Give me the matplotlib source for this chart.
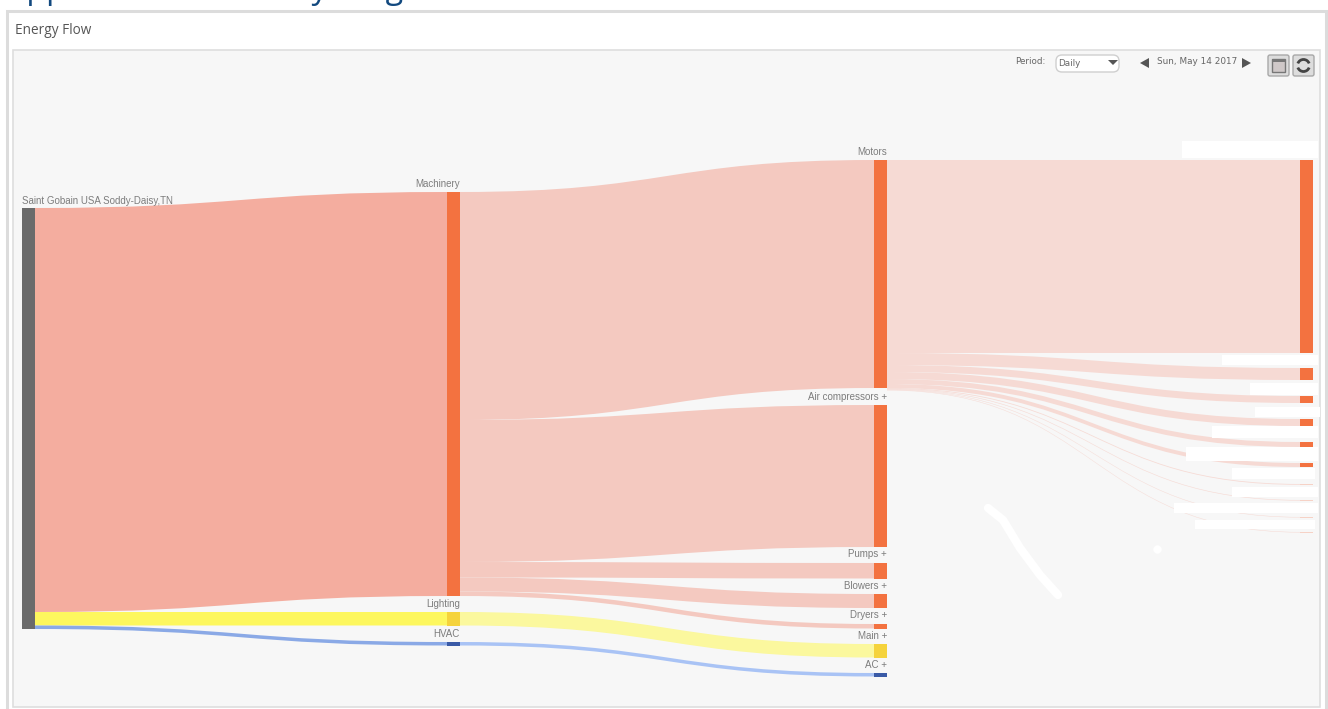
import matplotlib
matplotlib.use('Agg')
import matplotlib.pyplot as plt
from matplotlib.patches import PathPatch, Rectangle, FancyBboxPatch, Polygon, Arc
from matplotlib.path import Path

# Flow values, same unit as the screen height of a band
root_name = 'Saint Gobain USA Soddy-Daisy,TN'
level1_names = ['Machinery', 'Lighting', 'HVAC']
level1_values = [404, 13.5, 3.5]
machinery_names = ['Motors', 'Air compressors +', 'Pumps +', 'Blowers +', 'Dryers +']
machinery_values = [228, 142, 15.5, 14, 4.5]
lighting_name = 'Main +'
lighting_value = 13.5
hvac_name = 'AC +'
hvac_value = 3.5
motor_values = [193, 12, 7, 7, 5, 4, 0.8, 0.6, 0.5, 0.5]

# Layout: top of each node on screen
root_top = 208
level1_tops = [192, 612, 642]
level2_tops = [160, 405, 563, 594, 624, 644, 673]
level3_tops = [160, 368, 396, 419, 442, 463, 484, 500, 517, 532]
label_y_level1 = [184, 604, 634]
label_y_level2 = [152, 397, 554, 586, 615, 636, 665]

X0, X1, X2, X3 = 22, 447, 874, 1300
NODE_W = 13

ORANGE = '#f37240'
YELLOW = '#f5d33c'
BLUE = '#3a5aa6'
GRAY = '#6b6b6b'
TEXT = '#7d7d7d'

plt.rcParams['font.family'] = ['Liberation Sans', 'DejaVu Sans']

fig = plt.figure(figsize=(13.28, 7.09), dpi=100)
ax = fig.add_axes([0, 0, 1, 1])
ax.set_xlim(0, 1328)
ax.set_ylim(709, 0)
ax.axis('off')


def draw_link(x_start, x_end, y_start, y_end, width, color):
    mid = (x_start + x_end) / 2
    verts = [(x_start, y_start), (mid, y_start), (mid, y_end), (x_end, y_end),
             (x_end, y_end + width), (mid, y_end + width), (mid, y_start + width),
             (x_start, y_start + width), (x_start, y_start)]
    codes = [Path.MOVETO, Path.CURVE4, Path.CURVE4, Path.CURVE4, Path.LINETO,
             Path.CURVE4, Path.CURVE4, Path.CURVE4, Path.CLOSEPOLY]
    ax.add_patch(PathPatch(Path(verts, codes), facecolor=color, edgecolor='none', zorder=2))


def draw_node(x, y, height, color):
    ax.add_patch(Rectangle((x, y), NODE_W, height, facecolor=color, edgecolor='none', zorder=3))


def draw_label(x, y, text):
    ax.text(x, y, text, fontsize=7.0, color=TEXT, ha='right', va='center', zorder=4)


# Page and panel
ax.add_patch(Rectangle((6.5, 11), 1319, 705, facecolor='white', edgecolor='#dcdcdc', linewidth=2.2, zorder=0))
ax.add_patch(Rectangle((13, 50), 1307, 657, facecolor='#f7f7f7', edgecolor='#dedede', linewidth=1.2, zorder=1))
ax.text(6, -1.5, 'Application of Sankey Diagram', fontsize=23.2, color='#12497f',
        family=['Open Sans', 'DejaVu Sans'], ha='left', va='baseline')
ax.text(15, 30.5, 'Energy Flow', fontsize=9.8, color='#555555',
        family=['Open Sans', 'DejaVu Sans'], ha='left', va='center')

# Root to level 1
y = root_top
level1_colors = ['#f4ad9f', '#fdf75e', '#8aa9e6']
for value, top, color in zip(level1_values, level1_tops, level1_colors):
    draw_link(X0 + NODE_W, X1, y, top, value, color)
    y += value
draw_node(X0, root_top, sum(level1_values), GRAY)
ax.text(X0, 200.5, root_name, fontsize=7.0, color=TEXT, ha='left', va='center', zorder=4)

# Level 1 to level 2
y = level1_tops[0]
for value, top in zip(machinery_values, level2_tops):
    draw_link(X1 + NODE_W, X2, y, top, value, '#f4c9c0')
    draw_node(X2, top, value, ORANGE)
    y += value
draw_link(X1 + NODE_W, X2, level1_tops[1], level2_tops[5], lighting_value, '#fbf89e')
draw_link(X1 + NODE_W, X2, level1_tops[2], level2_tops[6], hvac_value, '#a9c3f5')
draw_node(X2, level2_tops[5], lighting_value, YELLOW)
draw_node(X2, level2_tops[6], hvac_value, BLUE)
for node_color, value, top in zip([ORANGE, YELLOW, BLUE], level1_values, level1_tops):
    draw_node(X1, top, value, node_color)
for name, label_y in zip(level1_names, label_y_level1):
    draw_label(X1 + NODE_W, label_y, name)
level2_names = machinery_names + [lighting_name, hvac_name]
for name, label_y in zip(level2_names, label_y_level2):
    draw_label(X2 + NODE_W, label_y, name)

# Motors to level 3, the thinnest nodes are only a pale trace
y = level2_tops[0]
for value, top in zip(motor_values, level3_tops):
    draw_link(X2 + NODE_W, X3, y, top, value, '#f6dad4')
    draw_node(X3, top, value, ORANGE if value >= 1 else '#f6d2c6')
    y += value

# White blocks that hide the level 3 names
hidden_boxes = [(1182, 141, 136, 17), (1222, 355, 96, 10), (1250, 383, 68, 12),
                (1255, 407, 65, 10), (1212, 426, 106, 12), (1186, 447, 132, 14),
                (1232, 468, 83, 11), (1232, 487, 86, 10), (1174, 503, 144, 10),
                (1195, 520, 120, 9)]
for box in hidden_boxes:
    ax.add_patch(Rectangle(box[:2], box[2], box[3], facecolor='white', edgecolor='none', zorder=5))
ax.plot([988, 1003, 1020, 1040, 1058], [508, 520, 548, 575, 595], color='white',
        linewidth=6, solid_capstyle='round', solid_joinstyle='round', zorder=5)
ax.plot([1157], [549], 'o', color='white', markersize=6, markeredgewidth=0, zorder=5)

# Period selector and date controls
ax.text(1015, 62, 'Period:', fontsize=6.3, color='#666666', family=['DejaVu Sans'], ha='left', va='center')
ax.add_patch(FancyBboxPatch((1056, 55), 63, 17, boxstyle='round,pad=0,rounding_size=6',
                            facecolor='white', edgecolor='#cfcfcf', linewidth=1, zorder=3))
ax.text(1058, 63, 'Daily', fontsize=6.3, color='#666666', family=['DejaVu Sans'], ha='left', va='center', zorder=4)
ax.add_patch(Polygon([(1108, 60), (1118, 60), (1113, 65)], facecolor='#555555', edgecolor='none', zorder=4))
ax.add_patch(Polygon([(1140, 63), (1149, 58), (1149, 68)], facecolor='#555555', edgecolor='none', zorder=4))
ax.text(1157, 62, 'Sun, May 14 2017', fontsize=6.4, color='#666666', family=['DejaVu Sans'], ha='left', va='center')
ax.add_patch(Polygon([(1251, 63), (1242, 58), (1242, 68)], facecolor='#555555', edgecolor='none', zorder=4))
for button_x in [1268, 1293]:
    ax.add_patch(FancyBboxPatch((button_x, 55), 21, 21, boxstyle='round,pad=0,rounding_size=2',
                                facecolor='#dddddd', edgecolor='#a8a8a8', linewidth=1, zorder=3))
ax.add_patch(Rectangle((1272, 59), 13, 13, facecolor='#cfc8c8', edgecolor='#777777', linewidth=1, zorder=4))
ax.add_patch(Rectangle((1272, 59), 13, 3, facecolor='#777777', edgecolor='none', zorder=4))
ax.add_patch(Arc((1303.5, 65.5), 12, 12, theta1=200, theta2=340, color='#444444', linewidth=2, zorder=4))
ax.add_patch(Arc((1303.5, 65.5), 12, 12, theta1=20, theta2=160, color='#444444', linewidth=2, zorder=4))

plt.savefig('out.png', dpi=100)
